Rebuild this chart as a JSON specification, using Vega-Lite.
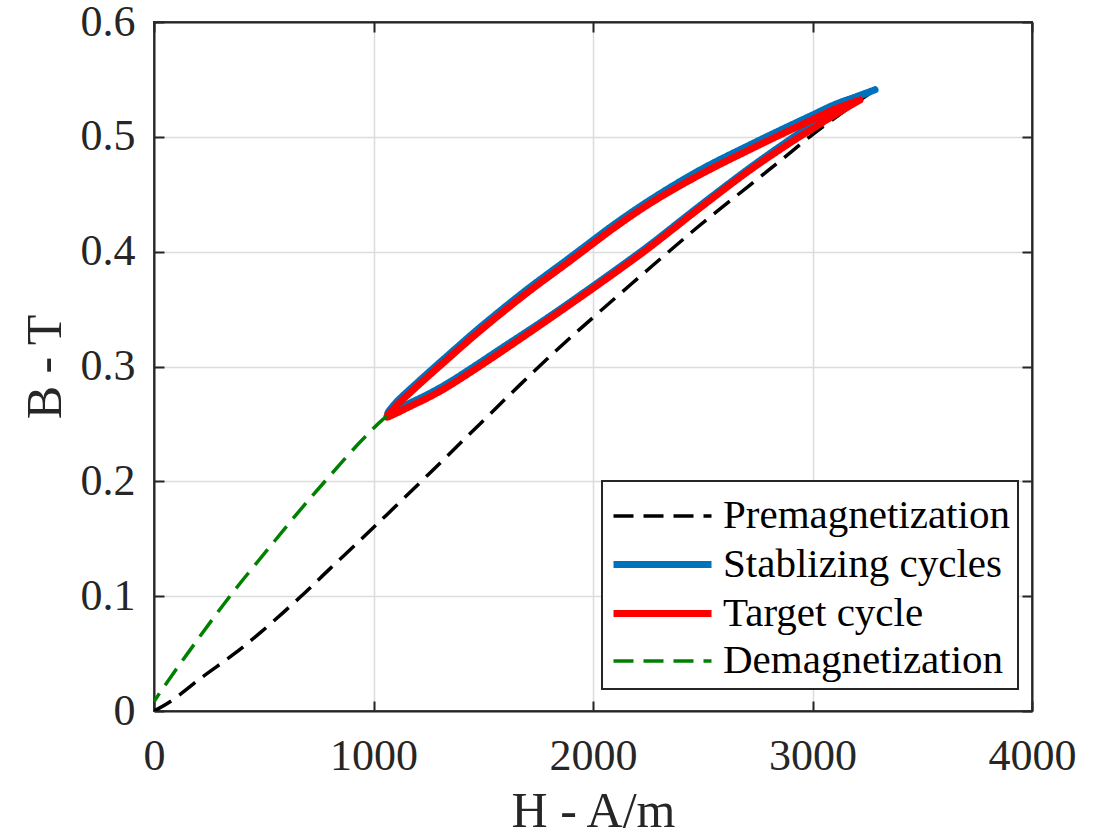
{
  "$schema": "https://vega.github.io/schema/vega-lite/v6.json",
  "width": 878,
  "height": 689,
  "autosize": {"type": "none"},
  "padding": {"left": 154, "top": 22, "right": 67, "bottom": 127},
  "background": "white",
  "datasets": {
    "curves": [
      {"series": "Premagnetization", "i": 0, "H": 0, "B": 0},
      {"series": "Premagnetization", "i": 1, "H": 73, "B": 0.008},
      {"series": "Premagnetization", "i": 2, "H": 223, "B": 0.03},
      {"series": "Premagnetization", "i": 3, "H": 360, "B": 0.049},
      {"series": "Premagnetization", "i": 4, "H": 483, "B": 0.068},
      {"series": "Premagnetization", "i": 5, "H": 665, "B": 0.099},
      {"series": "Premagnetization", "i": 6, "H": 802, "B": 0.124},
      {"series": "Premagnetization", "i": 7, "H": 952, "B": 0.151},
      {"series": "Premagnetization", "i": 8, "H": 1061, "B": 0.171},
      {"series": "Premagnetization", "i": 9, "H": 1250, "B": 0.206},
      {"series": "Premagnetization", "i": 10, "H": 1485, "B": 0.25},
      {"series": "Premagnetization", "i": 11, "H": 1667, "B": 0.284},
      {"series": "Premagnetization", "i": 12, "H": 1850, "B": 0.317},
      {"series": "Premagnetization", "i": 13, "H": 2032, "B": 0.348},
      {"series": "Premagnetization", "i": 14, "H": 2260, "B": 0.386},
      {"series": "Premagnetization", "i": 15, "H": 2487, "B": 0.423},
      {"series": "Premagnetization", "i": 16, "H": 2715, "B": 0.458},
      {"series": "Premagnetization", "i": 17, "H": 2852, "B": 0.479},
      {"series": "Premagnetization", "i": 18, "H": 3000, "B": 0.502},
      {"series": "Premagnetization", "i": 19, "H": 3150, "B": 0.523},
      {"series": "Premagnetization", "i": 20, "H": 3285, "B": 0.541},

      {"series": "Stablizing cycles", "i": 0, "H": 3285, "B": 0.541},
      {"series": "Stablizing cycles", "i": 1, "H": 3200, "B": 0.535},
      {"series": "Stablizing cycles", "i": 2, "H": 3100, "B": 0.528},
      {"series": "Stablizing cycles", "i": 3, "H": 3000, "B": 0.519},
      {"series": "Stablizing cycles", "i": 4, "H": 2900, "B": 0.51},
      {"series": "Stablizing cycles", "i": 5, "H": 2715, "B": 0.493},
      {"series": "Stablizing cycles", "i": 6, "H": 2487, "B": 0.471},
      {"series": "Stablizing cycles", "i": 7, "H": 2260, "B": 0.445},
      {"series": "Stablizing cycles", "i": 8, "H": 2091, "B": 0.423},
      {"series": "Stablizing cycles", "i": 9, "H": 2000, "B": 0.41},
      {"series": "Stablizing cycles", "i": 10, "H": 1882, "B": 0.393},
      {"series": "Stablizing cycles", "i": 11, "H": 1699, "B": 0.367},
      {"series": "Stablizing cycles", "i": 12, "H": 1485, "B": 0.334},
      {"series": "Stablizing cycles", "i": 13, "H": 1335, "B": 0.309},
      {"series": "Stablizing cycles", "i": 14, "H": 1200, "B": 0.286},
      {"series": "Stablizing cycles", "i": 15, "H": 1100, "B": 0.268},
      {"series": "Stablizing cycles", "i": 16, "H": 1065, "B": 0.259},
      {"series": "Stablizing cycles", "i": 17, "H": 1100, "B": 0.262},
      {"series": "Stablizing cycles", "i": 18, "H": 1153, "B": 0.267},
      {"series": "Stablizing cycles", "i": 19, "H": 1250, "B": 0.276},
      {"series": "Stablizing cycles", "i": 20, "H": 1335, "B": 0.285},
      {"series": "Stablizing cycles", "i": 21, "H": 1450, "B": 0.299},
      {"series": "Stablizing cycles", "i": 22, "H": 1576, "B": 0.315},
      {"series": "Stablizing cycles", "i": 23, "H": 1790, "B": 0.342},
      {"series": "Stablizing cycles", "i": 24, "H": 2000, "B": 0.37},
      {"series": "Stablizing cycles", "i": 25, "H": 2168, "B": 0.393},
      {"series": "Stablizing cycles", "i": 26, "H": 2260, "B": 0.406},
      {"series": "Stablizing cycles", "i": 27, "H": 2487, "B": 0.44},
      {"series": "Stablizing cycles", "i": 28, "H": 2715, "B": 0.473},
      {"series": "Stablizing cycles", "i": 29, "H": 2900, "B": 0.498},
      {"series": "Stablizing cycles", "i": 30, "H": 3000, "B": 0.511},
      {"series": "Stablizing cycles", "i": 31, "H": 3100, "B": 0.523},
      {"series": "Stablizing cycles", "i": 32, "H": 3200, "B": 0.534},
      {"series": "Stablizing cycles", "i": 33, "H": 3285, "B": 0.541},

      {"series": "Target cycle", "i": 0, "H": 3216, "B": 0.532},
      {"series": "Target cycle", "i": 1, "H": 3100, "B": 0.524},
      {"series": "Target cycle", "i": 2, "H": 3000, "B": 0.515},
      {"series": "Target cycle", "i": 3, "H": 2900, "B": 0.506},
      {"series": "Target cycle", "i": 4, "H": 2715, "B": 0.489},
      {"series": "Target cycle", "i": 5, "H": 2487, "B": 0.467},
      {"series": "Target cycle", "i": 6, "H": 2260, "B": 0.442},
      {"series": "Target cycle", "i": 7, "H": 2091, "B": 0.42},
      {"series": "Target cycle", "i": 8, "H": 2000, "B": 0.407},
      {"series": "Target cycle", "i": 9, "H": 1882, "B": 0.39},
      {"series": "Target cycle", "i": 10, "H": 1699, "B": 0.364},
      {"series": "Target cycle", "i": 11, "H": 1485, "B": 0.331},
      {"series": "Target cycle", "i": 12, "H": 1335, "B": 0.306},
      {"series": "Target cycle", "i": 13, "H": 1200, "B": 0.283},
      {"series": "Target cycle", "i": 14, "H": 1100, "B": 0.265},
      {"series": "Target cycle", "i": 15, "H": 1061, "B": 0.256},
      {"series": "Target cycle", "i": 16, "H": 1100, "B": 0.259},
      {"series": "Target cycle", "i": 17, "H": 1153, "B": 0.264},
      {"series": "Target cycle", "i": 18, "H": 1250, "B": 0.273},
      {"series": "Target cycle", "i": 19, "H": 1335, "B": 0.282},
      {"series": "Target cycle", "i": 20, "H": 1450, "B": 0.296},
      {"series": "Target cycle", "i": 21, "H": 1576, "B": 0.312},
      {"series": "Target cycle", "i": 22, "H": 1790, "B": 0.34},
      {"series": "Target cycle", "i": 23, "H": 2000, "B": 0.368},
      {"series": "Target cycle", "i": 24, "H": 2168, "B": 0.391},
      {"series": "Target cycle", "i": 25, "H": 2260, "B": 0.404},
      {"series": "Target cycle", "i": 26, "H": 2487, "B": 0.438},
      {"series": "Target cycle", "i": 27, "H": 2715, "B": 0.471},
      {"series": "Target cycle", "i": 28, "H": 2900, "B": 0.495},
      {"series": "Target cycle", "i": 29, "H": 3000, "B": 0.507},
      {"series": "Target cycle", "i": 30, "H": 3100, "B": 0.519},
      {"series": "Target cycle", "i": 31, "H": 3216, "B": 0.532},

      {"series": "Demagnetization", "i": 0, "H": 1065, "B": 0.257},
      {"series": "Demagnetization", "i": 1, "H": 1043, "B": 0.254},
      {"series": "Demagnetization", "i": 2, "H": 938, "B": 0.234},
      {"series": "Demagnetization", "i": 3, "H": 802, "B": 0.205},
      {"series": "Demagnetization", "i": 4, "H": 679, "B": 0.178},
      {"series": "Demagnetization", "i": 5, "H": 528, "B": 0.143},
      {"series": "Demagnetization", "i": 6, "H": 346, "B": 0.1},
      {"series": "Demagnetization", "i": 7, "H": 164, "B": 0.053},
      {"series": "Demagnetization", "i": 8, "H": 27, "B": 0.016},
      {"series": "Demagnetization", "i": 9, "H": 0, "B": 0.008}
    ]
  },
  "data": {"name": "curves"},
  "layer": [
    {
      "transform": [{"filter": "datum.series === 'Premagnetization'"}],
      "mark": {"type": "line", "clip": true, "interpolate": "catmull-rom"},
      "encoding": {
        "x": {"field": "H", "type": "quantitative", "scale": {"domain": [0, 4000], "nice": false},
          "axis": {"orient": "bottom", "values": [0, 1000, 2000, 3000, 4000], "format": "d", "title": "H - A/m", "grid": true, "labelPadding": 33, "titlePadding": 8}},
        "y": {"field": "B", "type": "quantitative", "scale": {"domain": [0, 0.6], "nice": false},
          "axis": {"orient": "left", "values": [0, 0.1, 0.2, 0.3, 0.4, 0.5, 0.6], "format": "~g", "title": "B - T", "grid": true, "labelPadding": 29, "titlePadding": 10}},
        "order": {"field": "i", "type": "quantitative"},
        "color": {"field": "series", "type": "nominal",
          "scale": {"domain": ["Premagnetization", "Stablizing cycles", "Target cycle", "Demagnetization"],
                    "range": ["#000000", "#0072BD", "#FF0000", "#008000"]}},
        "strokeDash": {"field": "series", "type": "nominal",
          "scale": {"domain": ["Premagnetization", "Stablizing cycles", "Target cycle", "Demagnetization"],
                    "range": [[20, 10], [1, 0], [1, 0], [20, 10]]}},
        "strokeWidth": {"field": "series", "type": "nominal",
          "scale": {"type": "ordinal", "domain": ["Premagnetization", "Stablizing cycles", "Target cycle", "Demagnetization"],
                    "range": [3.5, 7, 7, 3.5]}}
      }
    },
    {
      "transform": [{"filter": "datum.series === 'Stablizing cycles'"}],
      "mark": {"type": "line", "clip": true, "strokeJoin": "round", "strokeCap": "round", "interpolate": "catmull-rom"},
      "encoding": {
        "x": {"field": "H", "type": "quantitative", "axis": null},
        "y": {"field": "B", "type": "quantitative", "axis": null},
        "order": {"field": "i", "type": "quantitative"},
        "color": {"field": "series", "type": "nominal",
          "scale": {"domain": ["Premagnetization", "Stablizing cycles", "Target cycle", "Demagnetization"],
                    "range": ["#000000", "#0072BD", "#FF0000", "#008000"]}},
        "strokeDash": {"field": "series", "type": "nominal",
          "scale": {"domain": ["Premagnetization", "Stablizing cycles", "Target cycle", "Demagnetization"],
                    "range": [[20, 10], [1, 0], [1, 0], [20, 10]]}},
        "strokeWidth": {"field": "series", "type": "nominal",
          "scale": {"type": "ordinal", "domain": ["Premagnetization", "Stablizing cycles", "Target cycle", "Demagnetization"],
                    "range": [3.5, 7, 7, 3.5]}}
      }
    },
    {
      "transform": [{"filter": "datum.series === 'Target cycle'"}],
      "mark": {"type": "line", "clip": true, "strokeJoin": "round", "strokeCap": "round", "interpolate": "catmull-rom"},
      "encoding": {
        "x": {"field": "H", "type": "quantitative", "axis": null},
        "y": {"field": "B", "type": "quantitative", "axis": null},
        "order": {"field": "i", "type": "quantitative"},
        "color": {"field": "series", "type": "nominal",
          "scale": {"domain": ["Premagnetization", "Stablizing cycles", "Target cycle", "Demagnetization"],
                    "range": ["#000000", "#0072BD", "#FF0000", "#008000"]}},
        "strokeDash": {"field": "series", "type": "nominal",
          "scale": {"domain": ["Premagnetization", "Stablizing cycles", "Target cycle", "Demagnetization"],
                    "range": [[20, 10], [1, 0], [1, 0], [20, 10]]}},
        "strokeWidth": {"field": "series", "type": "nominal",
          "scale": {"type": "ordinal", "domain": ["Premagnetization", "Stablizing cycles", "Target cycle", "Demagnetization"],
                    "range": [3.5, 7, 7, 3.5]}}
      }
    },
    {
      "transform": [{"filter": "datum.series === 'Demagnetization'"}],
      "mark": {"type": "line", "clip": true, "interpolate": "catmull-rom"},
      "encoding": {
        "x": {"field": "H", "type": "quantitative",
          "axis": {"orient": "top", "values": [0, 1000, 2000, 3000, 4000], "labels": false, "title": null, "grid": false}},
        "y": {"field": "B", "type": "quantitative",
          "axis": {"orient": "right", "values": [0, 0.1, 0.2, 0.3, 0.4, 0.5, 0.6], "labels": false, "title": null, "grid": false}},
        "order": {"field": "i", "type": "quantitative"},
        "color": {"field": "series", "type": "nominal",
          "scale": {"domain": ["Premagnetization", "Stablizing cycles", "Target cycle", "Demagnetization"],
                    "range": ["#000000", "#0072BD", "#FF0000", "#008000"]},
          "legend": {"title": null, "orient": "none", "legendX": 448, "legendY": 459,
            "symbolType": "M-1,0H2.92", "symbolSize": 2500, "labelOffset": 56, "rowPadding": 0,
            "padding": 8, "fillColor": "white", "strokeColor": "#262626",
            "labelFont": "Liberation Serif", "labelFontSize": 41, "labelColor": "#000000", "labelLimit": 600,
            "encode": {"legend": {"update": {"strokeWidth": {"value": 2}}}}}},
        "strokeDash": {"field": "series", "type": "nominal",
          "scale": {"domain": ["Premagnetization", "Stablizing cycles", "Target cycle", "Demagnetization"],
                    "range": [[20, 10], [1, 0], [1, 0], [20, 10]]}},
        "strokeWidth": {"field": "series", "type": "nominal",
          "scale": {"type": "ordinal", "domain": ["Premagnetization", "Stablizing cycles", "Target cycle", "Demagnetization"],
                    "range": [3.5, 7, 7, 3.5]}}
      }
    }
  ],
  "resolve": {"axis": {"x": "independent", "y": "independent"}},
  "config": {
    "font": "Liberation Serif",
    "view": {"stroke": "#262626", "strokeWidth": 2},
    "axis": {
      "labelFont": "Liberation Serif",
      "labelFontSize": 44,
      "labelColor": "#262626",
      "titleFont": "Liberation Serif",
      "titleFontSize": 50,
      "titleFontWeight": "normal",
      "titleColor": "#262626",
      "domainColor": "#262626",
      "domainWidth": 2,
      "tickColor": "#262626",
      "tickWidth": 2,
      "tickSize": -10,
      "gridColor": "#dcdcdc",
      "gridWidth": 1.5,
      "labelFlush": false,
      "labelOverlap": false
    }
  }
}
